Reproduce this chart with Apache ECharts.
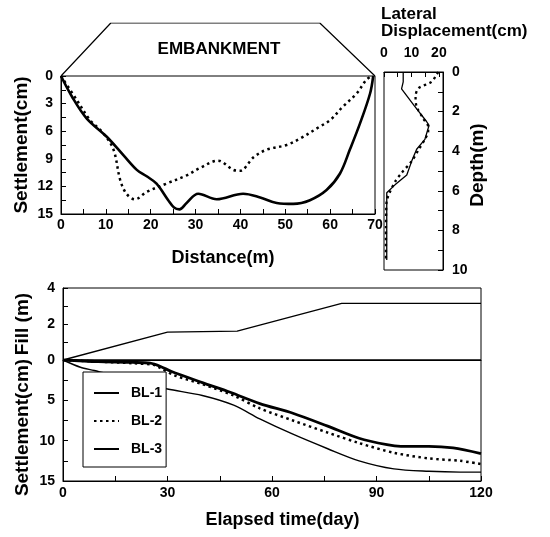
<!DOCTYPE html>
<html>
<head>
<meta charset="utf-8" />
<script src="https://cdn.jsdelivr.net/npm/echarts@6/dist/echarts.min.js"></script>
<style>
  html, body { margin: 0; padding: 0; background: #fff; }
  #chart { width: 550px; height: 537px; }
</style>
</head>
<body>
<div id="chart"></div>
<script>
// embankment outline (distance m, relative height)
const embankment = [[0, 0], [11.1, 1], [57.7, 1], [70, 0]];

// surface settlement profile: [distance m, settlement cm]
const profileSolid = [
  [0, 0], [2.4, 2.2], [5.7, 4.6], [10.2, 6.6], [13.9, 8.6], [16.9, 10.2], [19.1, 10.9],
  [21.3, 11.7], [23.9, 13.5], [25.2, 14.3], [26.4, 14.5], [28, 13.8], [30.6, 12.8],
  [34.7, 13.4], [40.6, 12.8], [44.4, 13.2], [48.1, 13.8], [51.8, 13.9], [55.5, 13.5],
  [59.2, 12.4], [62.2, 10.6], [64.4, 8.0], [66.7, 5.1], [68.9, 1.9], [69.6, 0]
];
const profileDotted = [
  [0, 0], [3.5, 2.6], [6.5, 4.8], [9.4, 6.2], [11.7, 8.0], [13.2, 11.3], [14.6, 12.8],
  [16.5, 13.4], [19.1, 12.6], [23.5, 11.7], [28, 10.8], [31, 10.0], [35, 9.2],
  [38.4, 10.2], [39.9, 10.3], [43, 8.8], [45.9, 8.0], [50.3, 7.5], [53.3, 6.8],
  [57.7, 5.5], [60, 4.8], [62.9, 3.3], [65.9, 1.9], [68.1, 0.4], [69.3, 0]
];

// lateral displacement: [displacement cm, depth m]
const lateralSolid = [
  [7, 0], [7, 0.5], [6.4, 0.85], [11, 1.7], [15.5, 2.5], [16.4, 2.7], [14.9, 3.4],
  [11.9, 3.9], [10.1, 4.5], [8.3, 5.2], [4, 5.7], [1, 6.1], [1, 7], [1, 8], [1, 9.5]
];
const lateralDotted = [
  [19.8, 0], [19.1, 0.15], [17.3, 0.5], [12.5, 0.83], [11.5, 1.25], [11.9, 1.75],
  [14.3, 2.35], [16.1, 2.77], [16.1, 3.0], [14.9, 3.4], [12.5, 3.95], [10.1, 4.5],
  [6.4, 5.1], [4, 5.55], [2.2, 6.05], [1, 6.5], [0.8, 7], [0.7, 8], [0.7, 9.5]
];

// fill height: [day, m]
const fillHeight = [[0, 0], [30, 1.55], [50, 1.6], [80, 3.15], [120, 3.15]];

// settlement vs time: [day, cm]
const bl1 = [
  [0, 0], [10, 0.2], [20, 0.3], [25, 0.4], [28, 0.8], [31, 1.4], [40, 2.8], [48, 4.0],
  [56.5, 5.4], [66, 6.6], [76, 8.2], [85, 9.7], [93, 10.5], [97, 10.7], [105, 10.7],
  [112, 10.9], [120, 11.6]
];
const bl2 = [
  [0, 0], [10, 0.2], [20, 0.4], [26, 0.6], [28, 1.0], [32, 1.9], [40, 3.0], [49, 4.4],
  [56.5, 6.0], [66, 7.5], [76, 9.0], [85, 10.3], [95, 11.5], [105, 12.2], [114, 12.5],
  [120, 12.9]
];
const bl3 = [
  [0, 0], [5, 0.9], [9, 1.3], [15, 2.0], [22, 2.8], [30, 3.6], [40, 4.4], [49, 5.6],
  [56.5, 7.3], [66, 9.2], [76, 11.0], [85, 12.5], [95, 13.5], [105, 13.8], [114, 13.9],
  [120, 13.9]
];
const legendNames = ["BL-1", "BL-2", "BL-3"];

const font = "Liberation Sans";
const black = "#000";
const labelStyle = { color: black, fontFamily: font, fontWeight: "bold", fontSize: 14 };
const nameStyle = { color: black, fontFamily: font, fontWeight: "bold", fontSize: 18 };
const vNameStyle = { color: black, fontFamily: font, fontWeight: "bold", fontSize: 19 };
const tick = { show: true, inside: true, length: 5, lineStyle: { color: black, width: 1 } };
const axisLine = { show: true, onZero: false, lineStyle: { color: black, width: 1 } };
const dotted = [2.5, 3.5];

function every(step) {
  return (v) => (Math.abs(v / step - Math.round(v / step)) < 1e-6 ? String(v) : "");
}

echarts.init(document.getElementById("chart")).setOption({
  animation: false,
  backgroundColor: "#fff",
  graphic: [
    {
      type: "text",
      x: 219,
      y: 49,
      style: {
        text: "EMBANKMENT",
        align: "center",
        verticalAlign: "middle",
        font: "bold 17px " + font,
        fill: black,
      },
    },
    {
      type: "text",
      x: 381,
      y: 6,
      style: {
        text: "Lateral\nDisplacement(cm)",
        align: "left",
        verticalAlign: "top",
        font: "bold 17px " + font,
        lineHeight: 17,
        fill: black,
      },
    },
  ],
  legend: {
    data: legendNames,
    orient: "vertical",
    left: 83,
    top: 372,
    backgroundColor: "#fff",
    borderColor: black,
    borderWidth: 1,
    padding: [14, 4, 11, 10],
    itemWidth: 25,
    itemHeight: 14,
    itemGap: 14,
    itemStyle: { opacity: 0 },
    textStyle: {
      color: black, fontFamily: font, fontWeight: "bold", fontSize: 14,
      padding: [0, 0, 0, 7],
    },
  },
  grid: [
    { left: 61, top: 23, width: 314, height: 53, show: false },
    { left: 61, top: 76, width: 314, height: 138, show: true, borderColor: black, borderWidth: 1 },
    { left: 384, top: 72, width: 59, height: 198, show: true, borderColor: black, borderWidth: 1 },
    { left: 63, top: 288, width: 418, height: 72, show: true, borderColor: black, borderWidth: 1 },
    { left: 63, top: 360, width: 418, height: 121, show: true, borderColor: black, borderWidth: 1 },
  ],
  xAxis: [
    { gridIndex: 0, type: "value", min: 0, max: 70, show: false },
    {
      gridIndex: 1, type: "value", min: 0, max: 70, interval: 5,
      axisLine, axisTick: tick, splitLine: { show: false },
      axisLabel: { ...labelStyle, margin: 4, formatter: every(10) },
      name: "Distance(m)", nameLocation: "middle", nameGap: 35,
      nameTextStyle: { ...nameStyle, padding: [0, 0, 0, 10] },
    },
    {
      gridIndex: 2, type: "value", position: "top", min: 0, max: 21.5, interval: 5,
      axisLine, axisTick: tick, splitLine: { show: false },
      axisLabel: { ...labelStyle, margin: 12, formatter: every(10) },
    },
    {
      gridIndex: 3, type: "value", min: 0, max: 120, interval: 15,
      axisLine, axisTick: { show: false }, axisLabel: { show: false }, splitLine: { show: false },
    },
    {
      gridIndex: 4, type: "value", min: 0, max: 120, interval: 15,
      axisLine, axisTick: tick, splitLine: { show: false },
      axisLabel: { ...labelStyle, margin: 5, formatter: every(30) },
      name: "Elapsed time(day)", nameLocation: "middle", nameGap: 30,
      nameTextStyle: { ...nameStyle, padding: [0, 0, 0, 21] },
    },
  ],
  yAxis: [
    { gridIndex: 0, type: "value", min: 0, max: 1, show: false },
    {
      gridIndex: 1, type: "value", inverse: true, min: 0, max: 15, interval: 1.5,
      axisLine, axisTick: tick, splitLine: { show: false },
      axisLabel: { ...labelStyle, margin: 8, formatter: every(3) },
      name: "Settlement(cm)", nameLocation: "middle", nameGap: 30, nameMoveOverlap: false,
      nameTextStyle: vNameStyle,
    },
    {
      gridIndex: 2, type: "value", position: "right", inverse: true, min: 0, max: 10, interval: 1,
      axisLine, axisTick: tick, splitLine: { show: false },
      axisLabel: { ...labelStyle, margin: 9, formatter: every(2) },
      name: "Depth(m)", nameLocation: "middle", nameGap: 25, nameMoveOverlap: false,
      nameTextStyle: { ...vNameStyle, padding: [0, 0, 0, 12] },
    },
    {
      gridIndex: 3, type: "value", min: 0, max: 4, interval: 1,
      axisLine, axisTick: tick, splitLine: { show: false },
      axisLabel: { ...labelStyle, margin: 8, formatter: every(2) },
      name: "Fill (m)", nameLocation: "middle", nameGap: 31, nameMoveOverlap: false,
      nameTextStyle: vNameStyle,
    },
    {
      gridIndex: 4, type: "value", inverse: true, min: 0, max: 15, interval: 2.5,
      axisLine, axisTick: tick, splitLine: { show: false },
      axisLabel: {
        ...labelStyle, margin: 8,
        formatter: (v) => (v !== 0 && v % 5 === 0 ? String(v) : ""),
      },
      name: "Settlement(cm)", nameLocation: "middle", nameGap: 31, nameMoveOverlap: false,
      nameTextStyle: { ...vNameStyle, padding: [0, 14, 0, 0] },
    },
  ],
  series: [
    {
      type: "line", xAxisIndex: 0, yAxisIndex: 0, data: embankment, symbol: "none",
      lineStyle: { color: black, width: 1.2 },
    },
    {
      type: "line", xAxisIndex: 1, yAxisIndex: 1, data: profileSolid, symbol: "none", smooth: 0.35,
      lineStyle: { color: black, width: 2.6 },
    },
    {
      type: "line", xAxisIndex: 1, yAxisIndex: 1, data: profileDotted, symbol: "none", smooth: 0.35,
      lineStyle: { color: black, width: 2.5, type: dotted },
    },
    {
      type: "line", xAxisIndex: 2, yAxisIndex: 2, data: lateralSolid, symbol: "none",
      lineStyle: { color: black, width: 1.3 },
    },
    {
      type: "line", xAxisIndex: 2, yAxisIndex: 2, data: lateralDotted, symbol: "none", smooth: 0.3,
      lineStyle: { color: black, width: 2.3, type: dotted },
    },
    {
      type: "line", xAxisIndex: 3, yAxisIndex: 3, data: fillHeight, symbol: "none",
      lineStyle: { color: black, width: 1.3 },
    },
    {
      name: "BL-1", type: "line", xAxisIndex: 4, yAxisIndex: 4, data: bl1, symbol: "none", smooth: 0.3,
      itemStyle: { color: black }, lineStyle: { color: black, width: 2.8 },
    },
    {
      name: "BL-2", type: "line", xAxisIndex: 4, yAxisIndex: 4, data: bl2, symbol: "none", smooth: 0.3,
      itemStyle: { color: black }, lineStyle: { color: black, width: 2.5, type: dotted },
    },
    {
      name: "BL-3", type: "line", xAxisIndex: 4, yAxisIndex: 4, data: bl3, symbol: "none", smooth: 0.3,
      itemStyle: { color: black }, lineStyle: { color: black, width: 1.4 },
    },
  ],
});
</script>
</body>
</html>
